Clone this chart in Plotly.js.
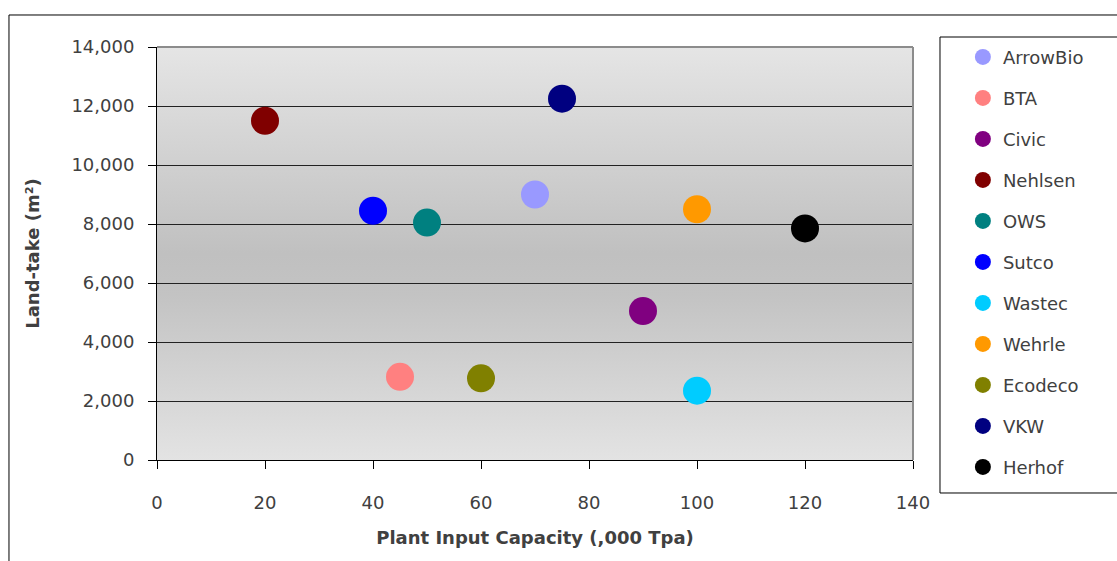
<!DOCTYPE html>
<html>
<head>
<meta charset="utf-8">
<script src="https://cdn.plot.ly/plotly-3.0.1.min.js"></script>
<style>html,body{margin:0;padding:0;background:#fff;}#chart{width:1117px;height:561px;}</style>
</head>
<body>
<div id="chart"></div>
<script>
const plants = ["ArrowBio","BTA","Civic","Nehlsen","OWS","Sutco","Wastec","Wehrle","Ecodeco","VKW","Herhof"];
const capacity = [70, 45, 90, 20, 50, 40, 100, 100, 60, 75, 120];
const landTake = [9000, 2820, 5050, 11500, 8050, 8450, 2350, 8500, 2770, 12250, 7850];
const colors = ["#9999ff","#ff8080","#800080","#800000","#008080","#0000ff","#00ccff","#ff9900","#808000","#000080","#000000"];
const xTicks = [0,20,40,60,80,100,120,140];
const yTicks = [0,2000,4000,6000,8000,10000,12000,14000];

const traces = plants.map((name, i) => ({
  type: "scatter",
  mode: "markers",
  name: name,
  legendgroup: name,
  x: [capacity[i]],
  y: [landTake[i]],
  marker: {size: 28, color: colors[i]},
  hoverinfo: "name+x+y"
}));

const grad = '<svg xmlns="http://www.w3.org/2000/svg" width="10" height="100" preserveAspectRatio="none">' +
  '<defs><linearGradient id="g" x1="0" y1="0" x2="0" y2="1">' +
  '<stop offset="0" stop-color="#e5e5e5"/>' +
  '<stop offset="0.5" stop-color="#c0c0c0"/>' +
  '<stop offset="0.6" stop-color="#c3c3c3"/>' +
  '<stop offset="1" stop-color="#e3e3e3"/>' +
  '</linearGradient></defs><rect width="10" height="100" fill="url(#g)"/></svg>';
const gradURI = "data:image/svg+xml;charset=utf-8," + encodeURIComponent(grad);

const txt = "#404040";
const layout = {
  width: 1117, height: 561,
  margin: {l: 157, r: 204, t: 47, b: 101},
  paper_bgcolor: "#ffffff",
  plot_bgcolor: "rgba(0,0,0,0)",
  font: {family: "DejaVu Sans, Verdana, sans-serif", color: txt},
  showlegend: true,
  xaxis: {
    range: [0, 140], tickvals: xTicks, ticktext: xTicks.map(String),
    showgrid: false, zeroline: false,
    showline: true, linecolor: "#000", linewidth: 1,
    ticks: "outside", ticklen: 8, tickcolor: "#000",
    ticklabelstandoff: 18,
    tickfont: {size: 18, color: txt},
    title: {text: "Plant Input Capacity (,000 Tpa)", font: {size: 18, color: txt, weight: "bold"}, standoff: 19}
  },
  yaxis: {
    range: [0, 14000], tickvals: yTicks, ticktext: yTicks.map(v => v.toLocaleString("en-US")),
    showgrid: true, gridcolor: "#222222", gridwidth: 1, zeroline: false,
    showline: true, linecolor: "#000", linewidth: 1,
    ticks: "outside", ticklen: 8, tickcolor: "#000",
    ticklabelstandoff: 10,
    tickfont: {size: 18, color: txt},
    title: {text: "Land-take (m²)", font: {size: 18, color: txt, weight: "bold"}, standoff: 27}
  },
  legend: {
    x: 1.066, xanchor: "left", y: 1.02, yanchor: "top",
    bgcolor: "rgba(0,0,0,0)", borderwidth: 0,
    font: {size: 18, color: txt},
    tracegroupgap: 14.6, itemsizing: "trace",
    maxheight: 560
  },
  images: [{
    source: gradURI, xref: "paper", yref: "paper",
    x: 0, y: 1, sizex: 1, sizey: 1, xanchor: "left", yanchor: "top",
    sizing: "stretch", layer: "below"
  }],
  shapes: [
    {type: "line", xref: "paper", yref: "paper", x0: 0, x1: 1, y0: 1, y1: 1, line: {color: "#8c8c8c", width: 2}, layer: "above"},
    {type: "line", xref: "paper", yref: "paper", x0: 1, x1: 1, y0: 0, y1: 1, line: {color: "#8c8c8c", width: 2}, layer: "above"},
    {type: "rect", xref: "paper", yref: "paper", x0: -0.1958, x1: 1.3, y0: -0.3, y1: 1.0775, line: {color: "#000", width: 1}, fillcolor: "rgba(0,0,0,0)", layer: "below"},
    {type: "rect", xref: "paper", yref: "paper", x0: 1.0357, x1: 1.3, y0: -0.0799, y1: 1.0242, line: {color: "#000", width: 1}, fillcolor: "#ffffff", layer: "below"}
  ]
};

Plotly.newPlot("chart", traces, layout, {displayModeBar: false, responsive: false});
</script>
</body>
</html>
